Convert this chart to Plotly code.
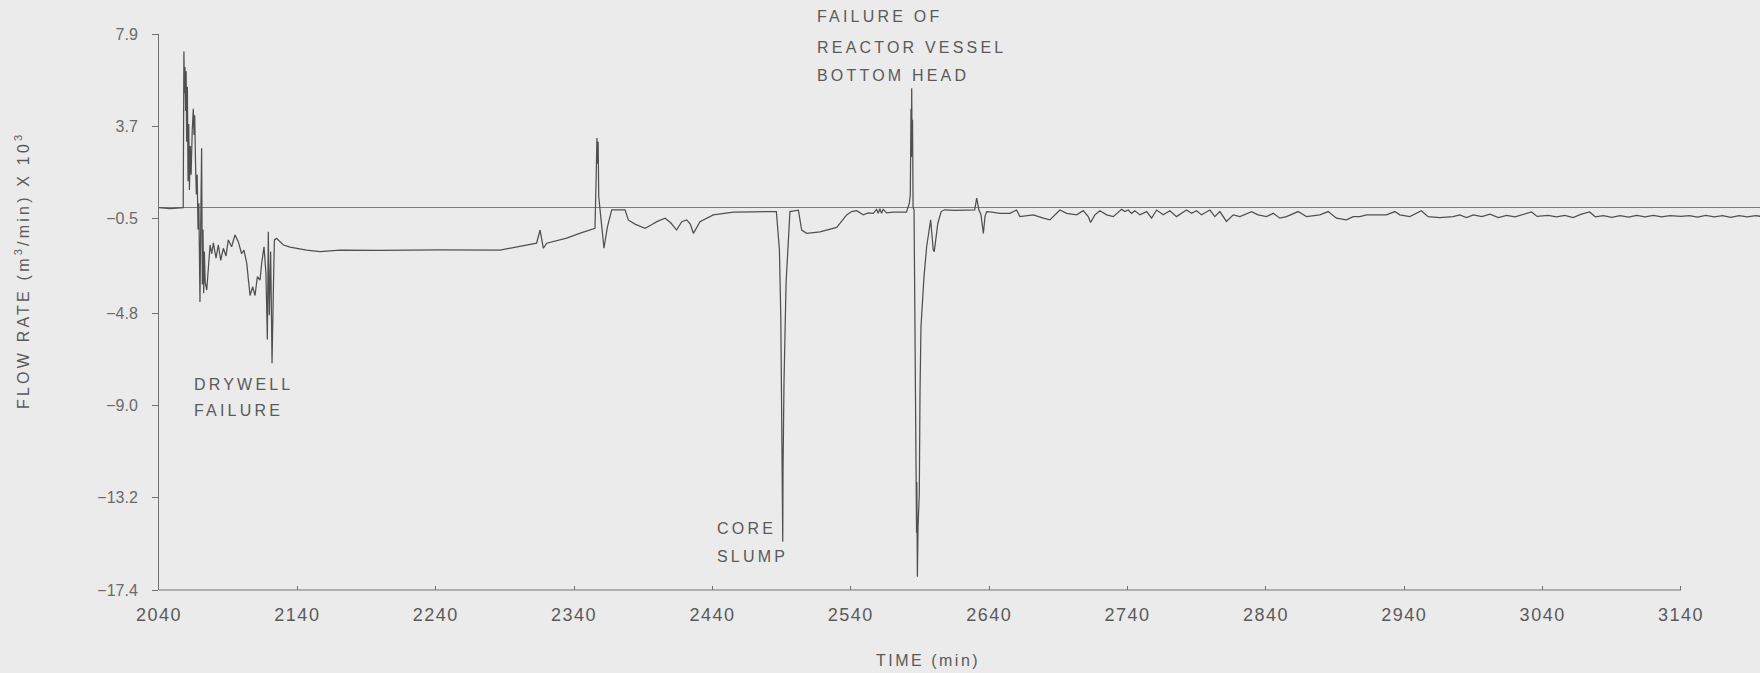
import plotly.graph_objects as go

# ---------------- data (time in min, flow rate in m3/min x 10^3) ----------------
drywell_time = [2040, 2048, 2057.5, 2058.0, 2058.4, 2058.8, 2059.2, 2059.6, 2060.0, 2060.5,
                2061.0, 2061.5, 2062.0, 2062.6, 2063.2, 2064.0, 2064.8, 2065.3, 2065.8, 2066.4,
                2067.0, 2067.6, 2068.2, 2068.8, 2069.6, 2070.2, 2070.8, 2071.3, 2071.8, 2072.3,
                2072.8, 2073.4, 2074.5, 2076.9, 2078.1, 2079.3, 2081.2, 2082.9, 2084.6, 2086.5,
                2088.4, 2090.1, 2092.5, 2094.9, 2097.3, 2099.7, 2101.4, 2103.4, 2105.8, 2107.7,
                2109.4, 2111.1, 2113.0, 2114.2, 2115.9, 2117.3, 2118.3, 2119.0, 2119.7, 2120.7,
                2121.7, 2122.6, 2123.4, 2125.0, 2127.4, 2129.9, 2134.7, 2146.7, 2156.4, 2170.8,
                2200.0, 2243.0, 2286.5]
drywell_flow = [0.0, -0.05, 0.0, 7.1, 5.2, 6.4, 4.4, 6.2, 3.0, 5.5,
                1.2, 3.8, 0.8, 2.8, 1.5, 3.5, 4.5, 3.3, 4.2, 2.0,
                0.6, 1.5, -1.0, 0.2, -4.3, -0.5, 2.7, -3.5, -1.0, -3.9,
                -2.0, -3.4, -3.75, -1.7, -2.1, -1.6, -2.3, -1.7, -2.4, -1.85,
                -2.2, -1.47, -1.78, -1.24, -1.55, -2.1, -1.93, -2.53, -4.0, -3.6,
                -4.0, -3.14, -3.3, -2.53, -1.78, -3.0, -6.0, -1.1, -4.9, -2.0,
                -7.08, -3.9, -1.47, -1.4, -1.55, -1.7, -1.8, -1.93, -2.0, -1.93,
                -1.95, -1.92, -1.93]

middle_time = [2304.5, 2312.9, 2315.4, 2317.8, 2320.2, 2334.6, 2345.0, 2355.1, 2356.0, 2356.5,
               2357.0, 2357.4, 2357.8, 2358.7, 2361.6, 2364.0, 2366.0, 2367.2, 2376.8, 2379.2,
               2384.0, 2391.3, 2396.0, 2399.8, 2405.8, 2410.0, 2414.1, 2417.8, 2421.4, 2424.0,
               2426.2, 2431.0, 2440.6, 2455.1, 2470.0, 2486.2]
middle_flow = [-1.70, -1.62, -1.02, -1.85, -1.62, -1.39, -1.15, -0.94, 1.5, 3.17,
               2.0, 3.0, 0.5, -0.1, -1.85, -0.9, -0.33, -0.1, -0.1, -0.56,
               -0.75, -0.94, -0.78, -0.64, -0.48, -0.7, -1.02, -0.64, -0.56, -0.75,
               -1.17, -0.64, -0.33, -0.21, -0.19, -0.18]

slump_time = [2488.4, 2489.4, 2490.1, 2490.3, 2490.4, 2490.5, 2490.6, 2490.8, 2491.0, 2491.7,
              2493.2, 2494.8, 2496.0, 2502.1, 2504.5, 2508.1, 2517.7, 2529.8, 2537.0, 2540.6,
              2544.2, 2549.0, 2552.6, 2556.2, 2558.6, 2559.8, 2561.0, 2562.2, 2563.4, 2565.8,
              2570.6, 2580.2]
slump_flow = [-1.93, -4.96, -9.97, -13.4, -10.5, -13.45, -11.0, -15.2, -12.0, -7.99,
              -3.44, -1.17, -0.18, -0.12, -1.02, -1.17, -1.1, -0.9, -0.33, -0.18,
              -0.14, -0.33, -0.24, -0.26, -0.08, -0.26, -0.05, -0.26, -0.08, -0.24,
              -0.21, -0.21]

vessel_time = [2582.3, 2583.0, 2583.5, 2583.8, 2584.0, 2584.3, 2584.6, 2585.0, 2585.7, 2586.9,
               2587.3, 2587.5, 2587.7, 2587.9, 2588.1, 2588.6, 2589.5, 2590.0, 2590.7, 2592.9,
               2594.8, 2597.7, 2599.6, 2600.3, 2602.9, 2605.3, 2607.7, 2615.0, 2625.0, 2629.5,
               2631.0, 2632.5, 2634.0, 2635.8, 2637.0, 2638.2, 2642.0]
vessel_flow = [0.2, 0.6, 4.5, 2.3, 5.43, 2.5, 4.0, 0.0, -0.1, -8.0,
               -12.3, -14.8, -12.5, -14.5, -16.8, -14.5, -13.0, -8.45, -5.42, -3.14,
               -1.78, -0.56, -1.93, -2.0, -0.71, -0.18, -0.1, -0.12, -0.1, -0.1,
               0.43, -0.1, -0.3, -1.17, -0.4, -0.18, -0.2]

tail_time = [2647.8, 2655.0, 2659.8, 2662.2, 2671.9, 2679.1, 2683.9, 2691.1, 2696.0, 2703.2,
             2708.0, 2711.6, 2713.3, 2716.4, 2720.0, 2724.9, 2729.7, 2735.7, 2738.1, 2740.5,
             2742.9, 2745.3, 2748.9, 2753.8, 2757.4, 2761.0, 2765.8, 2770.6, 2775.4, 2782.6,
             2786.3, 2789.9, 2793.5, 2799.5, 2803.1, 2806.7, 2811.5, 2816.4, 2821.2, 2829.6,
             2834.4, 2840.4, 2845.3, 2850.1, 2854.9, 2863.3, 2869.3, 2879.0, 2885.0, 2891.0,
             2898.2, 2903.1, 2907.9, 2912.7, 2922.3, 2927.1, 2933.2, 2936.8, 2944.0, 2952.4,
             2957.2, 2965.7, 2975.3, 2980.1, 2984.9, 2990.0, 2996.0, 3002.0, 3008.0, 3014.0,
             3020.0, 3026.0, 3032.0, 3036.0, 3044.0, 3050.0, 3056.0, 3062.0, 3068.0, 3074.0,
             3078.0, 3084.0, 3090.0, 3096.0, 3102.0, 3108.0, 3114.0, 3120.0, 3126.0, 3132.0,
             3140.0, 3146.0, 3152.0, 3158.0, 3164.0, 3170.0, 3176.0, 3182.0, 3188.0, 3194.0,
             3198.0]
tail_flow = [-0.26, -0.26, -0.11, -0.41, -0.33, -0.48, -0.56, -0.11, -0.26, -0.33,
             -0.14, -0.41, -0.68, -0.33, -0.14, -0.33, -0.41, -0.08, -0.18, -0.11,
             -0.26, -0.14, -0.33, -0.18, -0.48, -0.11, -0.33, -0.14, -0.41, -0.11,
             -0.26, -0.14, -0.33, -0.11, -0.41, -0.18, -0.63, -0.33, -0.41, -0.18,
             -0.33, -0.41, -0.26, -0.48, -0.41, -0.18, -0.41, -0.33, -0.18, -0.48,
             -0.56, -0.41, -0.41, -0.33, -0.33, -0.33, -0.18, -0.33, -0.41, -0.14,
             -0.41, -0.45, -0.41, -0.33, -0.45, -0.33, -0.41, -0.30, -0.45, -0.35,
             -0.42, -0.30, -0.20, -0.40, -0.35, -0.42, -0.35, -0.45, -0.30, -0.20,
             -0.42, -0.36, -0.44, -0.36, -0.43, -0.35, -0.42, -0.35, -0.42, -0.36,
             -0.40, -0.36, -0.43, -0.35, -0.42, -0.37, -0.44, -0.36, -0.42, -0.37,
             -0.40]

x_ticks = [2040, 2140, 2240, 2340, 2440, 2540, 2640, 2740, 2840, 2940, 3040, 3140]
y_ticks = [7.9, 3.7, -0.5, -4.8, -9.0, -13.2, -17.4]
y_tick_labels = ["7.9", "3.7", "\u22120.5", "\u22124.8", "\u22129.0", "\u221213.2", "\u221217.4"]

# event labels inside the plot: (text, time, flow)
event_labels = [
    ("DRYWELL", 2063.9, -8.07),
    ("FAILURE", 2063.9, -9.25),
    ("CORE", 2441.9, -14.58),
    ("SLUMP", 2441.9, -15.88),
]
# event label above the plot: (text, time, paper y)
top_labels = [
    ("FAILURE OF", 2514.1, 1.0306),
    ("REACTOR VESSEL", 2514.1, 0.9766),
    ("BOTTOM HEAD", 2514.1, 0.9245),
]

time_min = drywell_time + middle_time + slump_time + vessel_time + tail_time
flow_rate = drywell_flow + middle_flow + slump_flow + vessel_flow + tail_flow

X_MIN, X_MAX = 2040, 3197.1   # trace runs on past the last labelled tick
Y_MIN, Y_MAX = -17.4, 7.9

TEXT = "#5a5a5a"
AX = "#707070"
BG = "#ebebeb"
LABEL_SIZE = 16


def spaced(s, px=3.2):
    return f'<span style="letter-spacing:{px}px">{s}</span>'


fig = go.Figure()
fig.add_trace(go.Scatter(
    x=time_min, y=flow_rate, mode="lines",
    line=dict(color="#505050", width=1.25),
    hoverinfo="skip", showlegend=False,
))

annotations = []
for text, t, v in event_labels:
    annotations.append(dict(
        text=spaced(text), x=t, y=v, xref="x", yref="y",
        xanchor="left", yanchor="middle", showarrow=False,
        font=dict(size=LABEL_SIZE, color=TEXT),
    ))
for text, t, py in top_labels:
    annotations.append(dict(
        text=spaced(text), x=t, y=py, xref="x", yref="paper",
        xanchor="left", yanchor="middle", showarrow=False,
        font=dict(size=LABEL_SIZE, color=TEXT),
    ))
annotations.append(dict(
    text=spaced("FLOW RATE (m<sup>3</sup>/min) X 10<sup>3</sup>"),
    x=-0.0856, y=-2.84, xref="paper", yref="y", textangle=-90,
    xanchor="center", yanchor="middle", showarrow=False,
    font=dict(size=LABEL_SIZE, color=TEXT),
))
annotations.append(dict(
    text=spaced("TIME (min)", 2.5), x=2596, y=-0.127, xref="x", yref="paper",
    xanchor="center", yanchor="middle", showarrow=False,
    font=dict(size=LABEL_SIZE, color=TEXT),
))

# x axis line stops at the last labelled tick
axis_end = (x_ticks[-1] - X_MIN) / (X_MAX - X_MIN)
shapes = [dict(type="line", xref="paper", yref="paper", x0=0, x1=axis_end, y0=0, y1=0,
               line=dict(color=AX, width=1))]

fig.update_layout(
    width=1760, height=673,
    margin=dict(l=159, r=0, t=34, b=83),
    paper_bgcolor=BG, plot_bgcolor=BG,
    font=dict(family="Liberation Sans, Arial, sans-serif", color=TEXT),
    showlegend=False,
    annotations=annotations,
    shapes=shapes,
)
fig.update_xaxes(
    range=[X_MIN, X_MAX], tickvals=x_ticks,
    ticktext=[spaced(str(v), 1.5) for v in x_ticks],
    showgrid=False, zeroline=False, showline=False,
    ticks="inside", ticklen=4, tickcolor=AX, tickfont=dict(size=18, color=TEXT),
    ticklabelstandoff=12,
)
fig.update_yaxes(
    range=[Y_MIN, Y_MAX], tickvals=y_ticks, ticktext=y_tick_labels,
    showgrid=False, zeroline=True, zerolinecolor="#7c7c7c", zerolinewidth=1,
    showline=True, linecolor=AX, linewidth=1,
    ticks="outside", ticklen=6, tickcolor=AX, tickfont=dict(size=16, color="#6a6a6a"),
    ticklabelstandoff=11,
)

fig.write_html("out.html")
